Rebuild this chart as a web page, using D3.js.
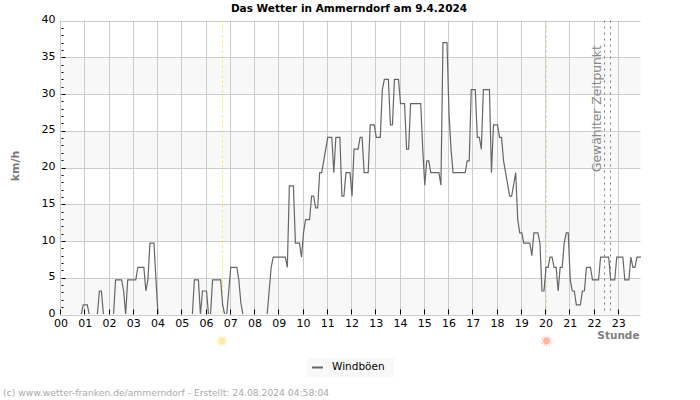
<!DOCTYPE html>
<html><head><meta charset="utf-8">
<script src="https://cdn.jsdelivr.net/npm/d3@7"></script>
<style>html,body{margin:0;padding:0;background:#fff}svg{display:block}text{font-family:"DejaVu Sans",sans-serif}</style>
</head><body><svg id="c" width="700" height="400"></svg>
<script>
const chartTitle="Das Wetter in Ammerndorf am 9.4.2024";
const footer="(c) www.wetter-franken.de/ammerndorf - Erstellt: 24.08.2024 04:58:04";
const seriesName="Windböen";
const hourLabels=d3.range(24).map(h=>String(h).padStart(2,"0"));
const yTicks=[0,5,10,15,20,25,30,35,40];
const bands=[[0,5],[10,15],[20,25],[30,35]];
const sunEvents=[6.69,20.06];
const selected=[22.42,22.67];
// one value every five minutes, twelve per hour
const gusts=[
0,0,0,0,0,0,0,0,0,0,0,1.3,
1.3,1.3,0,0,0,0,0,3.2,3.2,0,0,0,
0,0,0,4.7,4.7,4.7,4.7,3.2,0,4.7,4.7,4.7,
4.7,4.7,6.4,6.4,6.4,6.4,3.2,4.7,9.7,9.7,9.7,4.7,
0,0,0,0,0,0,0,0,0,0,0,0,
0,0,0,0,0,0,4.7,4.7,4.7,0,3.2,3.2,
3.2,0,0,4.7,4.7,4.7,4.7,4.7,1.3,0,0,3.2,
6.4,6.4,6.4,6.4,4.7,1.6,0,0,0,0,0,0,
0,0,0,0,0,0,0,3.2,6.4,7.8,7.8,7.8,
7.8,7.8,7.8,7.8,6.4,17.5,17.5,17.5,9.7,9.7,9.7,7.8,
11.1,12.9,12.9,12.9,16.1,16.1,14.5,14.5,19.3,19.3,20.9,22.5,
24.1,24.1,24.1,19.3,24.1,24.1,24.1,16.1,16.1,19.3,19.3,19.3,
16.1,22.5,22.5,22.5,24.1,24.1,19.3,19.3,19.3,25.8,25.8,25.8,
24.1,24.1,24.1,30.6,32,32,32,25.8,25.8,32,32,32,
28.7,28.7,28.7,22.5,22.5,28.7,28.7,28.7,28.7,28.7,28.7,22.5,
17.6,20.9,20.9,19.3,19.3,19.3,19.3,19.3,17.6,37,37,37,
27.4,22.5,19.3,19.3,19.3,19.3,19.3,19.3,19.3,20.9,20.9,30.6,
30.6,30.6,24.1,24.1,22.5,30.6,30.6,30.6,30.6,19.3,25.8,25.8,
25.8,24.1,24.1,20.9,19.3,17.7,16.1,16.1,17.7,19.3,12.9,11.1,
11.1,9.7,9.7,9.7,9.7,8,11.1,11.1,11.1,9.7,3.2,3.2,
6.4,6.4,7.8,7.8,6.4,6.4,3.2,6.4,6.4,9.7,11.1,11.1,
4.7,3.2,3.2,1.3,1.3,1.3,3.2,3.2,6.4,6.4,6.4,4.7,
4.7,4.7,4.7,7.8,7.8,7.8,7.8,7.8,4.7,4.7,4.7,7.8,
7.8,7.8,7.8,4.7,4.7,4.7,7.8,6.4,6.4,7.8,7.8,7.8];

const svg=d3.select("#c");
const L=60.5,R=640.5,T=20.5,B=314.5;
const x=d3.scaleLinear().domain([0,287]).range([L,R]);
const y=d3.scaleLinear().domain([0,40]).range([B,T]);
const hx=h=>x(h*12);
const snap=v=>Math.floor(v)+.5;
const grid="#cccccc";

// the plot clip ends just above the baseline, so stretches at zero stay hidden
svg.append("defs").append("clipPath").attr("id","plot").append("rect")
 .attr("x",L).attr("y",T-5).attr("width",R-L+2).attr("height",B-T+4.4);

svg.append("g").selectAll("rect").data(bands).join("rect")
 .attr("x",L).attr("width",R-L).attr("y",d=>y(d[1])).attr("height",d=>y(d[0])-y(d[1])).attr("fill","#f8f8f8");

const gy=svg.append("g");
gy.selectAll("line").data(yTicks).join("line").attr("x1",L).attr("x2",R)
 .attr("y1",d=>Math.round(y(d))+.5).attr("y2",d=>Math.round(y(d))+.5).attr("stroke",grid);
const gx=svg.append("g");
gx.selectAll("line").data(d3.range(24)).join("line").attr("y1",T).attr("y2",B)
 .attr("x1",d=>Math.round(hx(d)-.5)+.5).attr("x2",d=>Math.round(hx(d)-.5)+.5).attr("stroke",grid);

// event lines
svg.append("line").attr("x1",snap(hx(sunEvents[0]))).attr("x2",snap(hx(sunEvents[0]))).attr("y1",T).attr("y2",B)
 .attr("stroke","#f5e642").attr("stroke-dasharray","2,3");
svg.append("line").attr("x1",snap(hx(sunEvents[1]))).attr("x2",snap(hx(sunEvents[1]))).attr("y1",T).attr("y2",B)
 .attr("stroke","#f5d6a8").attr("stroke-dasharray","2,3");
svg.append("g").selectAll("line").data(selected).join("line")
 .attr("x1",d=>snap(hx(d))).attr("x2",d=>snap(hx(d))).attr("y1",T).attr("y2",B)
 .attr("stroke","#777").attr("stroke-dasharray","2,4");

// series
svg.append("path").datum(gusts).attr("fill","none").attr("stroke","#666").attr("stroke-width",1.2)
 .attr("clip-path","url(#plot)")
 .attr("d",d3.line().x((d,i)=>x(i)+.5).y(d=>y(d)));

// axes via d3
const ax=svg.append("g").attr("transform",`translate(0,${B})`)
 .call(d3.axisBottom(d3.scalePoint().domain(hourLabels).range([hx(0),hx(23)])).tickSize(0).tickPadding(5));
ax.select(".domain").remove();
ax.selectAll("text").attr("font-family","DejaVu Sans").attr("font-size",11).attr("fill","#000").attr("dy","0.71em");
svg.append("g").selectAll("line").data(d3.range(24)).join("line")
 .attr("x1",d=>Math.round(hx(d)-.5)+.5).attr("x2",d=>Math.round(hx(d)-.5)+.5).attr("y1",B-5).attr("y2",B).attr("stroke","#000");

const ay=svg.append("g").attr("transform",`translate(${L-3},-1.5)`)
 .call(d3.axisLeft(y).tickValues(yTicks).tickSize(0).tickPadding(2));
ay.select(".domain").remove();
ay.selectAll("text").attr("font-family","DejaVu Sans").attr("font-size",11).attr("fill","#000");
svg.append("g").selectAll("line").data(d3.range(1,40)).join("line")
 .attr("x1",L+1).attr("x2",d=>d%5===0?L+5:L+3)
 .attr("y1",d=>Math.round(y(d))+.5).attr("y2",d=>Math.round(y(d))+.5).attr("stroke","#000");

// sun icons
function sun(cx,cy,core,ray){
 const g=svg.append("g").attr("transform",`translate(${cx},${cy})`);
 g.selectAll("line").data(d3.range(12)).join("line").attr("x1",0).attr("y1",3).attr("x2",0).attr("y2",6)
  .attr("transform",d=>`rotate(${d*30})`).attr("stroke",ray).attr("stroke-width",.9);
 g.append("circle").attr("r",3.4).attr("fill",core);
}
sun(222,341,"#ffe9a0","#fff0c0");
sun(546.5,341,"#ffb3a0","#ffcfc0");

// texts
svg.append("text").attr("x",349).attr("y",12).attr("text-anchor","middle").attr("font-size",10.5).attr("font-weight","bold").attr("fill","#000").text(chartTitle);
svg.append("text").attr("transform","translate(19,166) rotate(-90)").attr("text-anchor","middle").attr("font-size",11).attr("font-weight","bold").attr("fill","#777").text("km/h");
svg.append("text").attr("x",639.5).attr("y",338.5).attr("text-anchor","end").attr("font-size",10.5).attr("font-weight","bold").attr("fill","#808080").text("Stunde");
svg.append("text").attr("transform","translate(601,172) rotate(-90)").attr("font-size",12.3).attr("fill","#888").text("Gewählter Zeitpunkt");
svg.append("rect").attr("x",307).attr("y",358).attr("width",87).attr("height",19).attr("fill","#f8f8f8");
svg.append("line").attr("x1",312).attr("x2",323).attr("y1",367.5).attr("y2",367.5).attr("stroke","#666").attr("stroke-width",2);
svg.append("text").attr("x",332).attr("y",370).attr("font-size",10.5).attr("fill","#000").text(seriesName);
svg.append("text").attr("x",3).attr("y",396).attr("font-size",9.2).attr("fill","#aaa").text(footer);
</script></body></html>
